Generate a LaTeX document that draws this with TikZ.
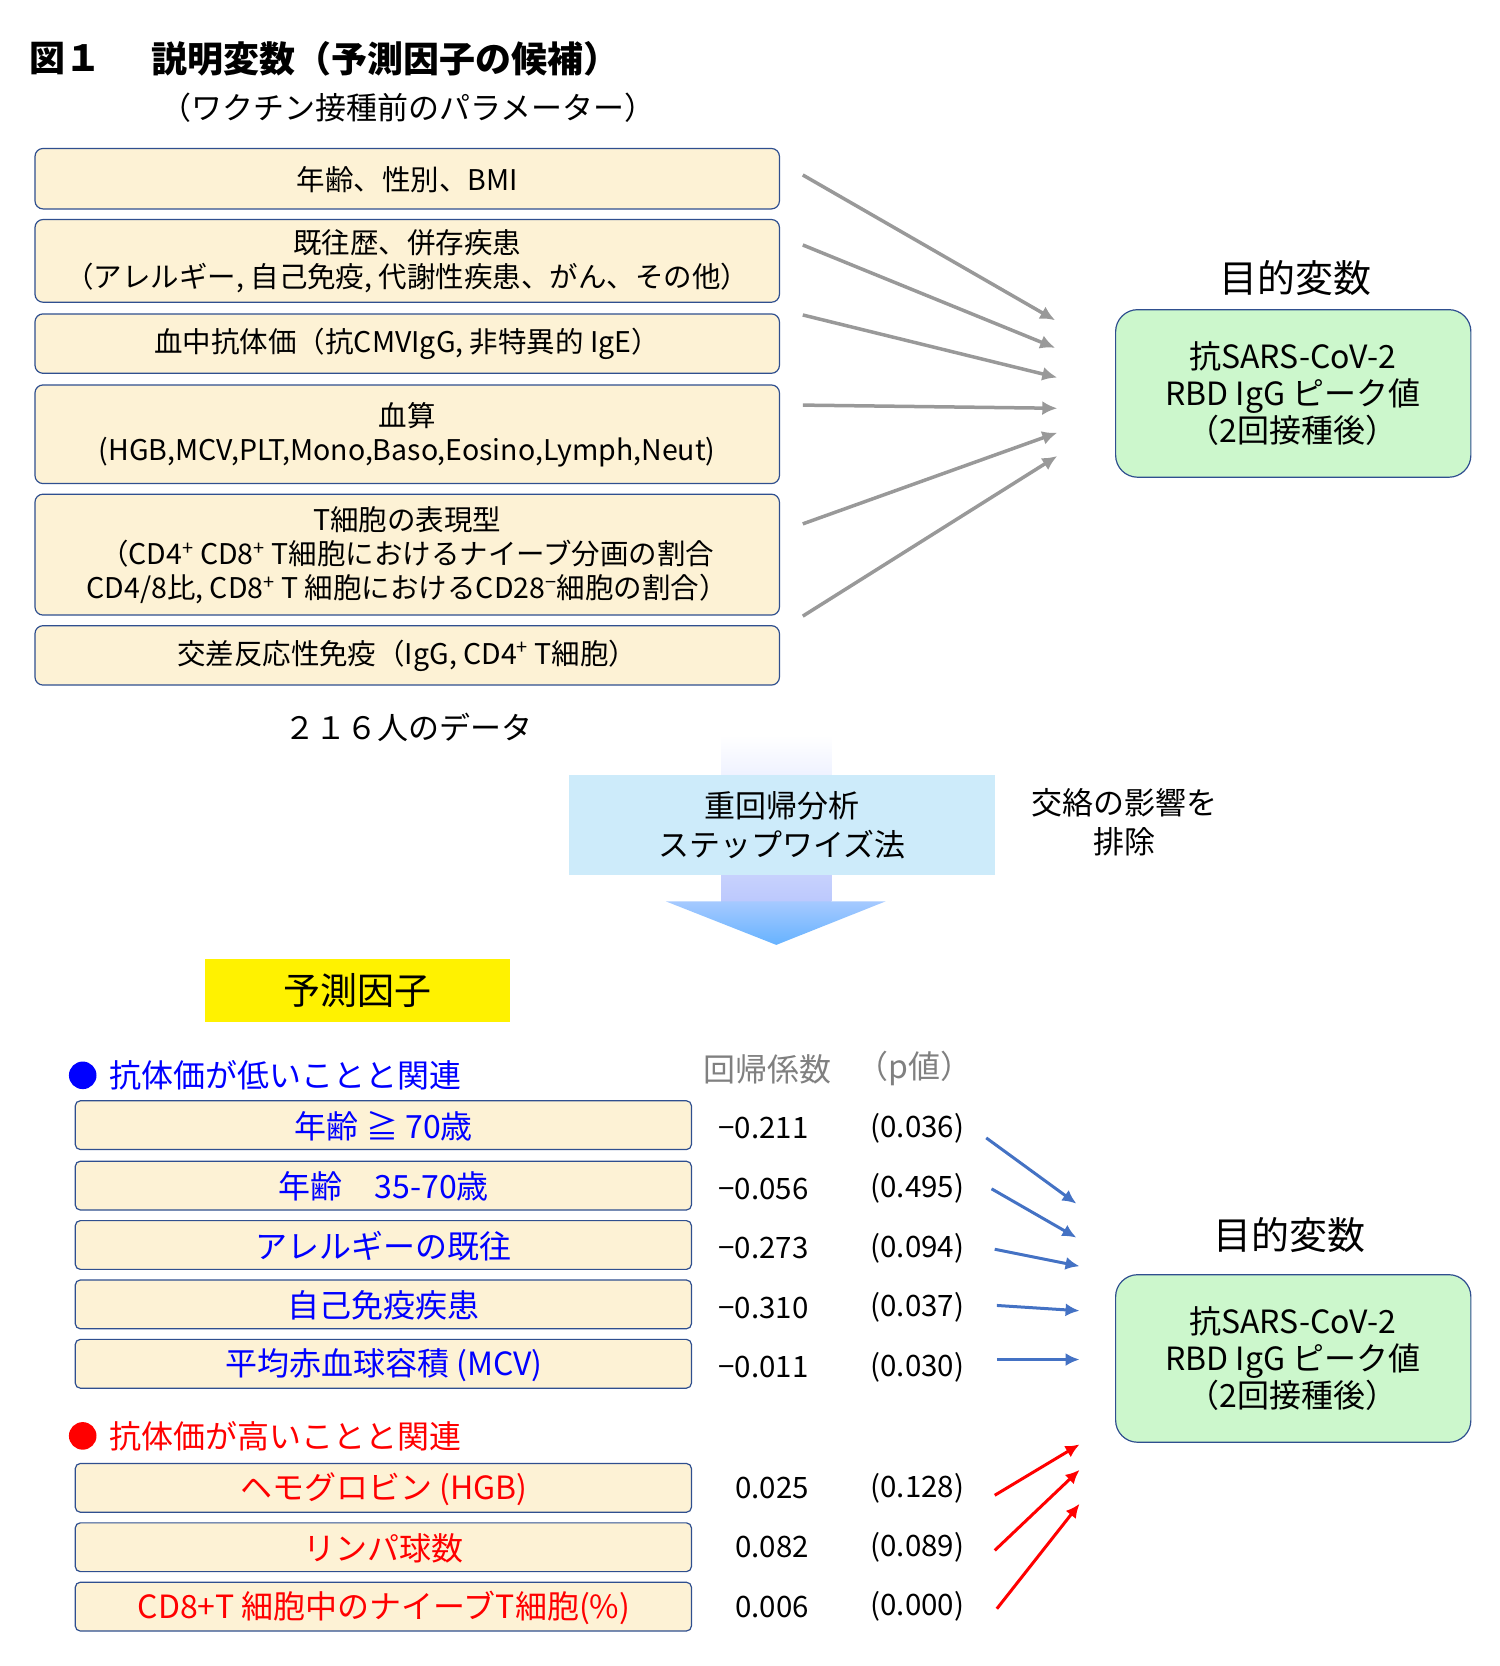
\documentclass[tikz,border=0pt]{standalone}
\usepackage{fontspec}
\setmainfont{Noto Sans CJK JP}
\usetikzlibrary{shapes.geometric,arrows.meta}
\definecolor{cream}{HTML}{FDF2D5}
\definecolor{bord}{HTML}{2F4F8F}
\definecolor{mint}{HTML}{CCF7CC}
\definecolor{lblue}{HTML}{CDEBFA}
\definecolor{aro}{HTML}{4472C4}
\begin{document}
\begin{tikzpicture}[x=1.0608pt,y=-1.0608pt,
 cbox/.style={draw=bord,line width=1.2pt,fill=cream,rounded corners=8pt},
 gbox/.style={draw=bord,line width=1.2pt,fill=mint,rounded corners=22pt},
 txt/.style={font=\fontsize{28.5}{34}\selectfont,align=center,inner sep=0},
 ltx/.style={font=\fontsize{32}{37}\selectfont,align=center,inner sep=0},
 garrow/.style={draw=gray!80,line width=3.5pt,-{Latex[length=15pt,width=14pt]}},
 barrow/.style={draw=aro,line width=3pt,-{Latex[length=14pt,width=13pt]}},
 rarrow/.style={draw=red,line width=3pt,-{Latex[length=14pt,width=13pt]}}]
\useasboundingbox (0,0) rectangle (1414,1571);
% title
\node[anchor=west,font=\fontsize{36}{40}\selectfont\bfseries,inner sep=0] (t1) at (28,55) {図１};
\node[anchor=west,font=\fontsize{36}{40}\selectfont\bfseries,inner sep=0] (t2) at (143,55) {説明変数（予測因子の候補）};
\node[txt,font=\fontsize{31}{34}\selectfont] (t3) at (385,102) {（ワクチン接種前のパラメーター）};
% top boxes
\draw[cbox] (33,140) rectangle (735,197); \node[txt] (b1) at (384,169) {年齢、性別、BMI};
\draw[cbox] (33,207) rectangle (735,285); \node[txt] (b2) at (384,246) {既往歴、併存疾患\\（アレルギー, 自己免疫, 代謝性疾患、がん、その他）};
\draw[cbox] (33,296) rectangle (735,352); \node[txt] (b3) at (384,324) {血中抗体価（抗CMVIgG, 非特異的 IgE）};
\draw[cbox] (33,363) rectangle (735,456); \node[txt] (b4) at (384,410) {血算\\(HGB,MCV,PLT,Mono,Baso,Eosino,Lymph,Neut)};
\draw[cbox] (33,466) rectangle (735,580); \node[txt] (b5) at (384,524) {T細胞の表現型\\（CD4\textsuperscript{+} CD8\textsuperscript{+} T細胞におけるナイーブ分画の割合\\CD4/8比, CD8\textsuperscript{+} T 細胞におけるCD28\textsuperscript{−}細胞の割合）};
\draw[cbox] (33,590) rectangle (735,646); \node[txt] (b6) at (384,618) {交差反応性免疫（IgG, CD4\textsuperscript{+} T細胞）};
\node[txt,font=\fontsize{31}{34}\selectfont] (d) at (385,686) {２１６人のデータ};
% gray arrows
\foreach \a/\b/\c/\d in {757/165/995/302, 757/231/995/328, 757/297/997/356, 757/382/997/385, 757/494/997/408, 757/581/997/430}
  \draw[garrow] (\a,\b) -- (\c,\d);
\node[ltx,font=\fontsize{38}{40}\selectfont] (m1) at (1222,262) {目的変数};
\draw[gbox] (1052,292) rectangle (1387,450);
\node[ltx] (g1) at (1219,371) {抗SARS-CoV-2\\RBD IgG ピーク値\\（2回接種後）};
% big arrow
\shade[top color=white,bottom color=lblue!70!blue!60] (680,693) rectangle (784,850);
\shade[top color=cyan!40!blue!35,bottom color=cyan!50!blue!60] (628,850) -- (835,850) -- (732,891) -- cycle;
\fill[lblue] (537,731) rectangle (938,825);
\node[txt,font=\fontsize{31}{39}\selectfont] (reg) at (737,778) {重回帰分析\\ステップワイズ法};
\node[txt,font=\fontsize{31}{39}\selectfont] (conf) at (1060,775) {交絡の影響を\\排除};
% yellow
\fill[yellow] (193,904) rectangle (481,964);
\node[ltx,font=\fontsize{37}{40}\selectfont] (yp) at (337,934) {予測因子};
% blue group
\fill[blue] (78,1014) circle (13);
\node[anchor=west,ltx,text=blue] (lo) at (103,1014) {抗体価が低いことと関連};
\node[ltx,text=gray] (h1) at (724,1008) {回帰係数};
\node[ltx,text=gray] (h2) at (862,1008) {（p値）};
\foreach \y/\t/\v/\p in {1038/年齢 ≧ 70歳/−0.211/(0.036), 1095/年齢\quad 35-70歳/−0.056/(0.495), 1151/アレルギーの既往/−0.273/(0.094), 1207/自己免疫疾患/−0.310/(0.037), 1263/平均赤血球容積 (MCV)/−0.011/(0.030)}{
  \draw[cbox,rounded corners=5pt] (71,\y) rectangle (652,\y+46);
  \node[txt,font=\fontsize{32}{34}\selectfont,text=blue] at (362,\y+24) {\t};
  \node[txt,font=\fontsize{29.5}{34}\selectfont] at (720,\y+26) {\v};
  \node[txt,font=\fontsize{29.5}{34}\selectfont] at (865,\y+26) {\p};
}
\foreach \a/\b/\c/\d in {930/1073/1015/1135, 935/1121/1015/1167, 938/1178/1018/1194, 940/1231/1018/1236, 940/1282/1018/1282}
  \draw[barrow] (\a,\b) -- (\c,\d);
% red group
\fill[red] (78,1354) circle (13);
\node[anchor=west,ltx,text=red] (hi) at (103,1354) {抗体価が高いことと関連};
\foreach \y/\t/\v/\p in {1380/ヘモグロビン (HGB)/0.025/(0.128), 1436/リンパ球数/0.082/(0.089), 1492/CD8+T 細胞中のナイーブT細胞(\%)/0.006/(0.000)}{
  \draw[cbox,rounded corners=5pt] (71,\y) rectangle (652,\y+46);
  \node[txt,font=\fontsize{32}{34}\selectfont,text=red] at (362,\y+24) {\t};
  \node[txt,font=\fontsize{29.5}{34}\selectfont] at (728,\y+23) {\v};
  \node[txt,font=\fontsize{29.5}{34}\selectfont] at (865,\y+23) {\p};
}
\foreach \a/\b/\c/\d in {938/1410/1018/1362, 938/1462/1018/1386, 940/1517/1018/1418}
  \draw[rarrow] (\a,\b) -- (\c,\d);
\node[ltx,font=\fontsize{38}{40}\selectfont] (m2) at (1216,1165) {目的変数};
\draw[gbox] (1052,1202) rectangle (1387,1360);
\node[ltx] (g2) at (1219,1281) {抗SARS-CoV-2\\RBD IgG ピーク値\\（2回接種後）};
\end{tikzpicture}
\end{document}
